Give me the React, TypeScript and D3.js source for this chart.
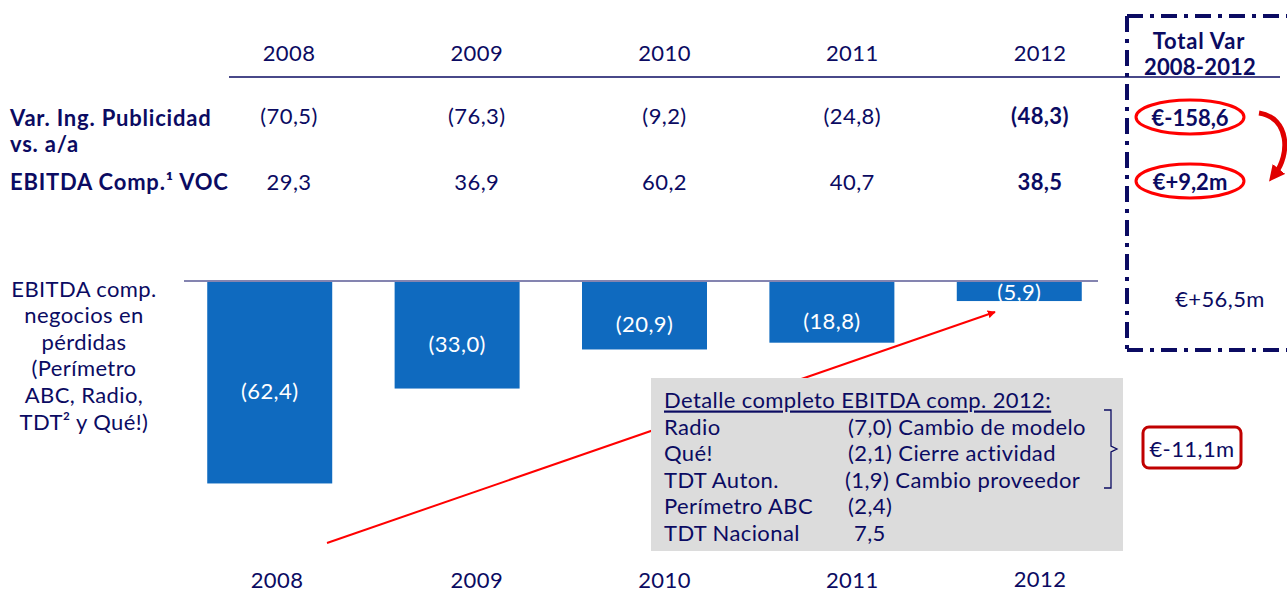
import React from "react";
import * as d3 from "d3";

const years = ["2008", "2009", "2010", "2011", "2012"];
const varIngPublicidad = ["(70,5)", "(76,3)", "(9,2)", "(24,8)", "(48,3)"];
const ebitdaVoc = ["29,3", "36,9", "60,2", "40,7", "38,5"];
const lossEbitda = [62.4, 33.0, 20.9, 18.8, 5.9];
const lossLabels = ["(62,4)", "(33,0)", "(20,9)", "(18,8)", "(5,9)"];
const leftLabelLines = ["EBITDA comp.", "negocios en", "pérdidas", "(Perímetro", "ABC, Radio,", "TDT² y Qué!)"];
const detailTitle = "Detalle completo EBITDA comp. 2012:";
const detailNames = ["Radio", "Qué!", "TDT Auton.", "Perímetro ABC", "TDT Nacional"];
const detailValues = ["(7,0) Cambio de modelo", "(2,1) Cierre actividad", "(1,9) Cambio proveedor", "(2,4)", " 7,5"];
const totalVarTexts = ["€-158,6", "€+9,2m", "€+56,5m", "€-11,1m"];

const NAVY = "#0b0b62";
const BLUE = "#0f6abf";
const FONT = "Lato, 'Open Sans', sans-serif";
const FS = 22;
const LS = 0.4;
const BOLD_LS = 0.8;

export default function App() {
  const W = 1287, H = 593;
  const tableX = d3.scalePoint<string>().domain(years).range([289, 1040]);
  const barX = d3.scaleBand<string>().domain(years).range([176, 1113]).paddingInner(0.333).paddingOuter(0.1667);
  const barY = d3.scaleLinear().domain([0, 70]).range([282, 508]);

  const dashBox = "16 7 4 7";

  return (
    <div style={{ position: "absolute", left: 0, top: 0 }}>
      <svg width={W} height={H} style={{ display: "block", background: "#fff" }} fontFamily={FONT} letterSpacing={LS}>
        <defs>
          <marker id="arrowRed" viewBox="0 0 10 10" refX="9" refY="5" markerWidth="8" markerHeight="8" orient="auto" markerUnits="userSpaceOnUse">
            <path d="M0,0 L10,5 L0,10 z" fill="#ff0000" />
          </marker>
          <marker id="arrowCurve" viewBox="0 0 10 10" refX="4" refY="5" markerWidth="16" markerHeight="16" orient="auto" markerUnits="userSpaceOnUse">
            <path d="M0,0 L10,5 L0,10 z" fill="#e00000" />
          </marker>
        </defs>

        {/* header years */}
        {years.map((y) => (
          <text key={"h" + y} x={tableX(y)} y={52} textAnchor="middle" dominantBaseline="central" fontSize={FS} fill={NAVY}>{y}</text>
        ))}
        <line x1={229} x2={1280} y1={77} y2={77} stroke={NAVY} strokeWidth={1.5} />

        {/* row labels */}
        <text x={10} y={117} dominantBaseline="central" fontSize={FS} fontWeight="bold" fill={NAVY} letterSpacing={BOLD_LS}>Var. Ing. Publicidad</text>
        <text x={10} y={143} dominantBaseline="central" fontSize={FS} fontWeight="bold" fill={NAVY} letterSpacing={BOLD_LS}>vs. a/a</text>
        <text x={10} y={181} dominantBaseline="central" fontSize={FS} fontWeight="bold" fill={NAVY} letterSpacing={BOLD_LS}>EBITDA Comp.¹ VOC</text>

        {years.map((y, i) => (
          <text key={"v" + y} x={tableX(y)} y={115} textAnchor="middle" dominantBaseline="central" fontSize={FS}
            fontWeight={i === 4 ? "bold" : "normal"} fill={NAVY}>{varIngPublicidad[i]}</text>
        ))}
        {years.map((y, i) => (
          <text key={"e" + y} x={tableX(y)} y={181} textAnchor="middle" dominantBaseline="central" fontSize={FS}
            fontWeight={i === 4 ? "bold" : "normal"} fill={NAVY}>{ebitdaVoc[i]}</text>
        ))}

        {/* total var dashed box */}
        <line x1={1127} x2={1127} y1={16} y2={350} stroke={NAVY} strokeWidth={4} strokeDasharray={dashBox} />
        <line x1={1127} x2={1290} y1={16} y2={16} stroke={NAVY} strokeWidth={4} strokeDasharray={dashBox} />
        <line x1={1127} x2={1290} y1={350} y2={350} stroke={NAVY} strokeWidth={4} strokeDasharray={dashBox} />
        <text x={1199} y={40} textAnchor="middle" dominantBaseline="central" fontSize={FS} fontWeight="bold" fill={NAVY} letterSpacing={BOLD_LS}>Total Var</text>
        <text x={1200} y={66} textAnchor="middle" dominantBaseline="central" fontSize={FS} fontWeight="bold" fill={NAVY} letterSpacing={0.2}>2008-2012</text>

        <ellipse cx={1190} cy={117} rx={54} ry={17} fill="none" stroke="#ff0000" strokeWidth={3} />
        <text x={1190} y={117} textAnchor="middle" dominantBaseline="central" fontSize={FS} fontWeight="bold" fill={NAVY} letterSpacing={0}>{totalVarTexts[0]}</text>
        <ellipse cx={1190} cy={181} rx={54} ry={17} fill="none" stroke="#ff0000" strokeWidth={3} />
        <text x={1190} y={181} textAnchor="middle" dominantBaseline="central" fontSize={FS} fontWeight="bold" fill={NAVY} letterSpacing={0}>{totalVarTexts[1]}</text>

        <path d="M1259,113 C1290,118 1290,155 1275,174" fill="none" stroke="#e00000" strokeWidth={5} markerEnd="url(#arrowCurve)" />

        <text x={1220} y={298} textAnchor="middle" dominantBaseline="central" fontSize={FS} fill={NAVY}>{totalVarTexts[2]}</text>

        {/* left label */}
        {leftLabelLines.map((l, i) => (
          <text key={"ll" + i} x={84} y={288 + i * 26.6} textAnchor="middle" dominantBaseline="central" fontSize={FS} fill={NAVY}>{l}</text>
        ))}

        {/* red pointer line (behind box) */}
        <line x1={327} y1={543} x2={995} y2={312} stroke="#ff0000" strokeWidth={2} markerEnd="url(#arrowRed)" />

        {/* bars */}
        {years.map((y, i) => {
          const x0 = barX(y)!;
          const y1 = barY(lossEbitda[i]);
          const h = y1 - barY(0);
          const cy = barY(0) + h / 2 + (h > 40 ? 8 : 0);
          return (
            <g key={"b" + y}>
              <rect x={x0} y={barY(0)} width={barX.bandwidth()} height={h} fill={BLUE} />
              <text x={x0 + barX.bandwidth() / 2} y={cy} textAnchor="middle" dominantBaseline="central" fontSize={FS} fill="#fff">{lossLabels[i]}</text>
            </g>
          );
        })}
        <line x1={184} x2={1098} y1={281} y2={281} stroke={NAVY} strokeWidth={1.2} />

        {/* detail box */}
        <rect x={651} y={378} width={472} height={173} fill="#dcdcdc" />
        <text x={664} y={399} dominantBaseline="central" fontSize={FS} fill={NAVY} textDecoration="underline">{detailTitle}</text>
        {detailNames.map((n, i) => (
          <g key={"d" + i}>
            <text x={664} y={426 + i * 26.5} dominantBaseline="central" fontSize={FS} fill={NAVY}>{n}</text>
            <text x={i === 2 ? 845 : 848} y={426 + i * 26.5} dominantBaseline="central" fontSize={FS} fill={NAVY} style={{ whiteSpace: "pre" }}>{detailValues[i]}</text>
          </g>
        ))}

        {/* bracket */}
        <path d="M1104,410 L1111,410 L1111,446 L1117,449 L1111,452 L1111,488 L1104,488" fill="none" stroke={NAVY} strokeWidth={1.3} />

        <rect x={1143} y={427} width={98} height={41} rx={6} fill="#fff" stroke="#c00000" strokeWidth={3} />
        <text x={1192} y={448} textAnchor="middle" dominantBaseline="central" fontSize={FS} fill={NAVY}>{totalVarTexts[3]}</text>

        {/* bottom years */}
        {years.map((y, i) => (
          <text key={"by" + y} x={tableX(y)! - (i === 0 ? 12 : 0)} y={i === 4 ? 578 : 579.5} textAnchor="middle" dominantBaseline="central" fontSize={FS} fill={NAVY}>{y}</text>
        ))}
      </svg>
    </div>
  );
}
